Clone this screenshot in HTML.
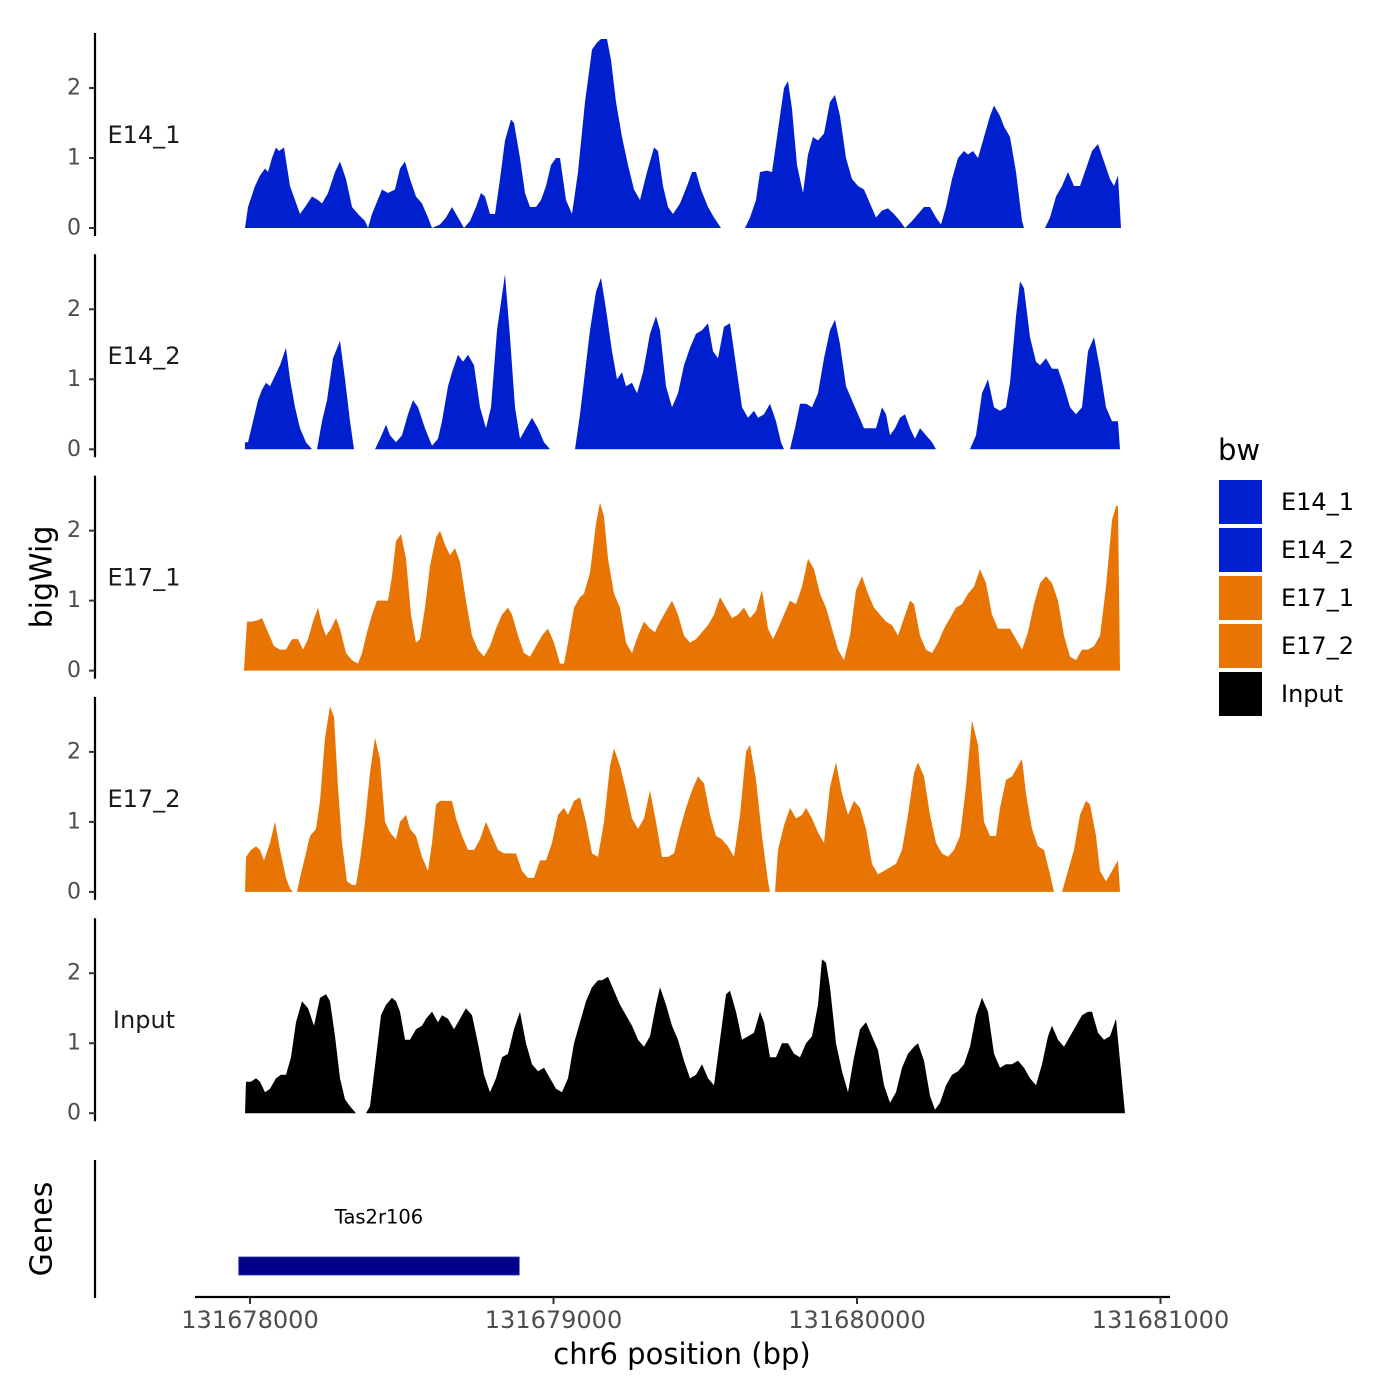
<!DOCTYPE html>
<html><head><meta charset="utf-8"><style>
html,body{margin:0;padding:0;background:#fff;}
svg{display:block;font-family:"DejaVu Sans","Liberation Sans",sans-serif;}
</style></head><body>
<svg id="chart" width="1400" height="1400" viewBox="0 0 1400 1400" xmlns="http://www.w3.org/2000/svg">
<rect width="1400" height="1400" fill="#fff"/>
<g id="tracks"></g>
<g id="axes"></g>
<text x="42" y="577" transform="rotate(-90 42 577)" text-anchor="middle" dominant-baseline="central" font-size="30" fill="#000">bigWig</text>
<text x="42" y="1229" transform="rotate(-90 42 1229)" text-anchor="middle" dominant-baseline="central" font-size="30" fill="#000">Genes</text>
<line x1="95" y1="1160" x2="95" y2="1298" stroke="#000" stroke-width="2.2"/>
<g id="genes"></g>
<g id="xaxis"></g>
<text x="682" y="1354" text-anchor="middle" dominant-baseline="central" font-size="29" fill="#000">chr6 position (bp)</text>
<g id="legend">
<text x="1218" y="450" dominant-baseline="central" font-size="29" fill="#000">bw</text>
</g>
</svg>
<script>
// Sample positions are recorded in track units (u); genomic bp = 131678000 + (u-250)*3.295
const trackNames = ["E14_1","E14_2","E17_1","E17_2","Input"];
const trackColors = ["#0020D0","#0020D0","#E87503","#E87503","#000000"];
const yTicks = [0,1,2];
const xTicks = [131678000,131679000,131680000,131681000];
const xTickLabels = ["131678000","131679000","131680000","131681000"];
const gene = {name:"Tas2r106", start:131677963, end:131678887};

const e14_1 = [[245,0],[248,0.3],[255,0.6],[260,0.75],[265,0.85],[268,0.8],[272,1.0],[276,1.15],[279,1.1],[284,1.15],[290,0.6],[295,0.4],[300,0.2],[305,0.3],[312,0.45],[318,0.4],[322,0.35],[328,0.5],[335,0.8],[340,0.95],[346,0.7],[352,0.3],[358,0.2],[365,0.1],[368,0],[372,0.2],[382,0.55],[388,0.5],[395,0.55],[400,0.85],[405,0.95],[410,0.7],[416,0.45],[422,0.35],[428,0.15],[432,0],[440,0.05],[446,0.15],[452,0.3],[458,0.15],[464,0],[470,0.1],[476,0.3],[481,0.5],[485,0.45],[490,0.2],[495,0.2],[500,0.7],[505,1.25],[511,1.55],[514,1.5],[520,1.0],[525,0.5],[530,0.3],[536,0.3],[541,0.4],[546,0.6],[551,0.9],[556,1.0],[560,1.0],[566,0.4],[572,0.2],[578,0.8],[585,1.8],[592,2.55],[597,2.65],[601,2.7],[607,2.7],[611,2.4],[616,1.8],[622,1.3],[628,0.9],[634,0.55],[640,0.4],[647,0.8],[654,1.15],[658,1.1],[663,0.6],[668,0.3],[673,0.2],[680,0.35],[687,0.6],[692,0.8],[696,0.8],[701,0.55],[708,0.3],[714,0.15],[721,0],[733,null],[745,0],[750,0.15],[756,0.4],[760,0.8],[767,0.82],[772,0.8],[778,1.4],[784,2.0],[788,2.1],[792,1.7],[797,0.9],[803,0.5],[808,1.05],[813,1.3],[818,1.25],[824,1.35],[830,1.8],[835,1.9],[840,1.6],[846,1.0],[852,0.7],[858,0.6],[864,0.55],[870,0.35],[876,0.15],[882,0.25],[888,0.28],[894,0.2],[900,0.1],[905,0],[912,0.1],[918,0.2],[924,0.3],[930,0.3],[936,0.15],[941,0.05],[946,0.3],[952,0.7],[958,1.0],[964,1.1],[968,1.05],[973,1.1],[978,1.0],[984,1.3],[990,1.6],[994,1.75],[1000,1.6],[1004,1.45],[1010,1.3],[1016,0.8],[1022,0.1],[1024,0],[1034,null],[1045,0],[1050,0.15],[1056,0.45],[1062,0.6],[1068,0.8],[1074,0.6],[1080,0.6],[1086,0.85],[1092,1.1],[1098,1.2],[1104,0.95],[1110,0.7],[1114,0.6],[1118,0.75],[1121,0]];

const e14_2 = [[245,0.1],[248,0.1],[253,0.4],[258,0.7],[262,0.85],[266,0.95],[270,0.9],[275,1.05],[280,1.2],[286,1.45],[290,1.0],[295,0.6],[300,0.3],[306,0.1],[312,0],[314,null],[317,0],[322,0.4],[327,0.7],[333,1.3],[340,1.55],[345,1.0],[350,0.4],[354,0],[364,null],[375,0],[380,0.15],[386,0.35],[390,0.2],[396,0.1],[402,0.2],[408,0.5],[413,0.7],[418,0.6],[425,0.3],[432,0.05],[438,0.15],[442,0.4],[448,0.9],[452,1.1],[458,1.35],[463,1.25],[468,1.35],[474,1.2],[480,0.6],[486,0.3],[491,0.6],[497,1.7],[502,2.2],[505,2.5],[510,1.6],[515,0.6],[520,0.15],[526,0.3],[532,0.45],[538,0.3],[544,0.1],[550,0],[562,null],[575,0],[580,0.5],[585,1.1],[590,1.7],[596,2.25],[601,2.45],[606,2.0],[612,1.4],[617,1.0],[622,1.1],[626,0.9],[632,0.95],[637,0.8],[643,1.1],[650,1.65],[656,1.9],[660,1.7],[666,0.9],[672,0.6],[678,0.8],[684,1.2],[690,1.45],[696,1.65],[702,1.7],[708,1.8],[713,1.4],[718,1.3],[724,1.75],[730,1.8],[736,1.2],[742,0.6],[748,0.45],[754,0.55],[758,0.45],[764,0.5],[770,0.65],[776,0.4],[781,0.1],[784,0],[787,null],[790,0],[795,0.3],[800,0.65],[806,0.65],[812,0.6],[818,0.8],[824,1.3],[830,1.7],[835,1.85],[840,1.5],[846,0.9],[852,0.7],[858,0.5],[864,0.3],[870,0.3],[876,0.3],[882,0.6],[886,0.5],[890,0.2],[895,0.3],[900,0.45],[905,0.5],[910,0.3],[915,0.15],[920,0.3],[926,0.2],[932,0.1],[936,0],[952,null],[970,0],[976,0.2],[982,0.8],[988,1.0],[994,0.6],[1000,0.55],[1006,0.6],[1010,0.95],[1016,1.9],[1020,2.4],[1024,2.3],[1030,1.6],[1036,1.25],[1040,1.2],[1046,1.3],[1052,1.15],[1058,1.15],[1064,0.9],[1070,0.6],[1076,0.5],[1082,0.6],[1088,1.4],[1094,1.6],[1100,1.15],[1106,0.6],[1112,0.4],[1118,0.4],[1120,0]];

const e17_1 = [[244,0],[247,0.7],[252,0.7],[258,0.72],[262,0.75],[268,0.55],[274,0.35],[280,0.3],[286,0.3],[292,0.45],[298,0.45],[303,0.3],[308,0.45],[313,0.7],[318,0.9],[322,0.65],[326,0.5],[331,0.6],[336,0.75],[340,0.6],[346,0.25],[352,0.15],[358,0.1],[362,0.25],[367,0.55],[372,0.8],[377,1.0],[382,1.0],[388,1.0],[392,1.35],[396,1.85],[401,1.95],[406,1.6],[411,0.8],[416,0.4],[420,0.45],[425,0.9],[430,1.5],[436,1.9],[440,2.0],[445,1.8],[450,1.65],[455,1.75],[460,1.55],[466,1.0],[472,0.5],[478,0.3],[484,0.2],[490,0.35],[496,0.6],[502,0.8],[508,0.9],[512,0.8],[518,0.5],[524,0.25],[530,0.2],[536,0.35],[542,0.5],[548,0.6],[554,0.4],[560,0.1],[564,0.1],[568,0.4],[574,0.9],[580,1.05],[584,1.1],[590,1.4],[596,2.1],[600,2.4],[604,2.2],[608,1.6],[614,1.1],[620,0.9],[626,0.4],[632,0.25],[638,0.5],[644,0.7],[650,0.6],[655,0.55],[660,0.7],[666,0.85],[672,1.0],[678,0.8],[684,0.5],[690,0.4],[696,0.45],[702,0.55],[708,0.65],[714,0.8],[720,1.05],[726,0.9],[732,0.75],[738,0.8],[744,0.9],[750,0.75],[756,0.85],[762,1.15],[768,0.6],[773,0.45],[778,0.6],[784,0.8],[790,1.0],[796,0.95],[802,1.2],[808,1.6],[814,1.45],[820,1.1],[826,0.9],[832,0.6],[838,0.3],[844,0.15],[850,0.5],[856,1.15],[862,1.35],[868,1.1],[874,0.9],[880,0.8],[886,0.7],[892,0.65],[898,0.5],[904,0.75],[910,1.0],[914,0.95],[920,0.5],[926,0.3],[932,0.25],[938,0.4],[944,0.6],[950,0.75],[956,0.9],[962,0.95],[968,1.1],[974,1.2],[980,1.45],[986,1.25],[992,0.8],[998,0.6],[1004,0.6],[1010,0.6],[1016,0.45],[1022,0.3],[1028,0.55],[1034,0.95],[1040,1.25],[1046,1.35],[1052,1.25],[1058,1.0],[1064,0.5],[1070,0.2],[1076,0.15],[1082,0.3],[1088,0.3],[1094,0.35],[1100,0.5],[1106,1.2],[1112,2.15],[1116,2.35],[1118,2.35],[1120,0]];

const e17_2 = [[245,0],[246,0.5],[251,0.6],[256,0.65],[260,0.6],[264,0.45],[270,0.7],[275,1.0],[280,0.6],[286,0.2],[290,0.05],[293,0],[295,null],[297,0],[300,0.2],[305,0.5],[310,0.8],[316,0.9],[320,1.3],[325,2.2],[330,2.65],[334,2.5],[338,1.5],[342,0.7],[347,0.15],[352,0.1],[356,0.1],[360,0.45],[365,1.0],[370,1.7],[375,2.2],[380,1.9],[385,1.0],[390,0.85],[396,0.75],[400,1.0],[406,1.1],[410,0.9],[416,0.8],[422,0.5],[428,0.3],[432,0.7],[436,1.25],[440,1.3],[446,1.3],[452,1.3],[456,1.05],[462,0.8],[468,0.6],[474,0.6],[480,0.75],[486,1.0],[492,0.8],[498,0.6],[504,0.55],[510,0.55],[516,0.55],[522,0.3],[528,0.2],[534,0.2],[540,0.45],[546,0.45],[552,0.7],[558,1.1],[564,1.2],[568,1.1],[574,1.3],[580,1.35],[586,1.0],[592,0.55],[598,0.5],[604,1.0],[610,1.8],[614,2.05],[620,1.8],[626,1.45],[632,1.05],[638,0.9],[644,1.05],[650,1.45],[656,1.0],[662,0.5],[668,0.5],[674,0.55],[680,0.9],[686,1.2],[692,1.45],[698,1.65],[704,1.55],[710,1.1],[716,0.8],[722,0.75],[728,0.65],[734,0.5],[740,1.1],[746,2.0],[750,2.1],[756,1.6],[762,0.8],[768,0.15],[770,0],[772,null],[775,0],[778,0.6],[784,0.95],[790,1.2],[796,1.05],[802,1.1],[806,1.2],[812,1.05],[818,0.85],[824,0.7],[830,1.5],[836,1.85],[842,1.4],[848,1.1],[854,1.3],[860,1.2],[866,0.9],[872,0.4],[878,0.25],[884,0.3],[890,0.35],[896,0.4],[902,0.6],[908,1.1],[914,1.7],[918,1.85],[924,1.65],[930,1.1],[936,0.7],[942,0.55],[948,0.5],[954,0.6],[960,0.8],[966,1.5],[972,2.45],[978,2.1],[984,1.0],[990,0.8],[996,0.8],[1000,1.2],[1006,1.6],[1012,1.65],[1018,1.8],[1022,1.9],[1026,1.4],[1032,0.9],[1038,0.65],[1044,0.6],[1050,0.25],[1054,0],[1058,null],[1062,0],[1068,0.3],[1074,0.6],[1080,1.1],[1086,1.3],[1090,1.25],[1096,0.8],[1100,0.3],[1106,0.15],[1112,0.3],[1118,0.45],[1120,0]];

const input = [[245,0],[246,0.45],[251,0.45],[256,0.5],[260,0.45],[265,0.3],[270,0.35],[276,0.5],[281,0.55],[286,0.55],[291,0.8],[296,1.3],[302,1.6],[308,1.5],[314,1.25],[320,1.65],[326,1.7],[330,1.6],[335,1.1],[340,0.5],[345,0.2],[350,0.1],[356,0],[361,null],[366,0],[370,0.1],[376,0.8],[381,1.4],[386,1.55],[392,1.65],[396,1.6],[400,1.45],[405,1.05],[410,1.05],[416,1.2],[422,1.25],[426,1.35],[432,1.45],[438,1.3],[442,1.4],[448,1.35],[454,1.2],[460,1.35],[466,1.5],[472,1.4],[478,1.0],[484,0.55],[490,0.3],[496,0.5],[502,0.8],[508,0.85],[514,1.2],[520,1.45],[526,1.0],[532,0.7],[538,0.6],[544,0.65],[550,0.5],[556,0.35],[562,0.3],[568,0.5],[574,1.0],[580,1.3],[586,1.6],[592,1.8],[598,1.9],[602,1.9],[608,1.95],[614,1.75],[620,1.55],[626,1.4],[632,1.25],[638,1.05],[644,0.95],[650,1.1],[656,1.55],[660,1.8],[666,1.55],[672,1.25],[678,1.05],[684,0.75],[690,0.5],[696,0.55],[702,0.7],[708,0.5],[714,0.4],[720,1.05],[726,1.7],[730,1.75],[736,1.45],[742,1.05],[748,1.1],[754,1.15],[760,1.45],[764,1.3],[770,0.8],[776,0.8],[782,1.0],[788,1.0],[794,0.85],[800,0.8],[806,1.0],[812,1.1],[818,1.55],[822,2.2],[826,2.15],[830,1.8],[836,1.0],[842,0.6],[848,0.3],[854,0.8],[860,1.2],[866,1.3],[872,1.1],[878,0.9],[884,0.4],[890,0.15],[896,0.3],[902,0.65],[908,0.85],[914,0.95],[918,1.0],[924,0.75],[930,0.25],[935,0.05],[940,0.15],[946,0.4],[952,0.55],[958,0.6],[964,0.7],[970,0.95],[976,1.4],[982,1.65],[988,1.45],[994,0.85],[1000,0.65],[1006,0.7],[1012,0.7],[1018,0.75],[1024,0.65],[1030,0.5],[1036,0.4],[1042,0.7],[1048,1.1],[1052,1.25],[1058,1.05],[1064,0.95],[1070,1.1],[1076,1.25],[1082,1.4],[1088,1.45],[1092,1.45],[1098,1.15],[1104,1.05],[1110,1.1],[1116,1.35],[1125,0]];

const trackData = [e14_1, e14_2, e17_1, e17_2, input];

const NS = "http://www.w3.org/2000/svg";
function mk(tag, attrs, parent){const e=document.createElementNS(NS,tag);for(const k in attrs)e.setAttribute(k,attrs[k]);parent.appendChild(e);return e;}
function toBp(u){return 131678000 + (u-250)*3.295;}
function xScale(bp){return 250 + (bp-131678000)*0.3035;}
const PANEL0 = 228, PANEL_STEP = 221.3, PX_PER_UNIT = 70;
function yScale(i, v){return PANEL0 + i*PANEL_STEP - v*PX_PER_UNIT;}

const tracks = document.getElementById('tracks');
const axes = document.getElementById('axes');
trackData.forEach((data, i) => {
  const g = mk('g', {}, tracks);
  
  
  const segs = []; let cur = [];
  data.forEach(d => { if (d[1] === null) { if (cur.length) segs.push(cur); cur = []; } else cur.push(d); });
  if (cur.length) segs.push(cur);
  const base = yScale(i, 0);
  segs.forEach((s) => {
    let dStr = 'M' + xScale(toBp(s[0][0])).toFixed(1) + ',' + base;
    s.forEach(p => { dStr += 'L' + xScale(toBp(p[0])).toFixed(1) + ',' + yScale(i, p[1]).toFixed(1); });
    dStr += 'L' + xScale(toBp(s[s.length-1][0])).toFixed(1) + ',' + base + 'Z';
    const path = mk('path', {d: dStr, fill: trackColors[i], stroke: 'none'}, g);
    
    
  });
  const ax = mk('line', {x1:95, x2:95, y1:(yScale(i,2.8)+1).toFixed(1), y2:(base+8).toFixed(1), stroke:'#000', 'stroke-width':2.2}, axes);
  
  
  yTicks.forEach(t => {
    const y = yScale(i, t);
    const tk = mk('line', {x1:89, x2:95, y1:y, y2:y, stroke:'#333', 'stroke-width':2}, axes);
    
    
    const tl = mk('text', {x:81, y:y, 'text-anchor':'end', 'dominant-baseline':'central', 'font-size':22, fill:'#4d4d4d'}, axes);
    tl.textContent = String(t);
    
    
  });
  const lbl = mk('text', {x:144, y:(yScale(i,1.33)).toFixed(1), 'text-anchor':'middle', 'dominant-baseline':'central', 'font-size':24, fill:'#1a1a1a'}, axes);
  lbl.textContent = trackNames[i];
  
  
});

const genes = document.getElementById('genes');
const gx1 = xScale(gene.start), gx2 = xScale(gene.end);
const gb = mk('rect', {x:gx1, y:1257, width:gx2-gx1, height:18, fill:'#00008B', stroke:'#2a2ab0', 'stroke-width':0.8}, genes);


const gl = mk('text', {x:(gx1+gx2)/2, y:1217, 'text-anchor':'middle', 'dominant-baseline':'central', 'font-size':19.5, fill:'#000'}, genes);
gl.textContent = gene.name;



const xa = document.getElementById('xaxis');
const xl = mk('line', {x1:195, x2:1170, y1:1297, y2:1297, stroke:'#000', 'stroke-width':2.2}, xa);


xTicks.forEach((t, k) => {
  const x = xScale(t);
  const tk = mk('line', {x1:x, x2:x, y1:1297, y2:1304, stroke:'#333', 'stroke-width':2}, xa);
  
  
  const tl = mk('text', {x:x, y:1320, 'text-anchor':'middle', 'dominant-baseline':'central', 'font-size':24, fill:'#4d4d4d'}, xa);
  tl.textContent = xTickLabels[k];
  
  
});

const lg = document.getElementById('legend');
trackNames.forEach((n, i) => {
  const y = 480 + i*48;
  const r = mk('rect', {x:1219, y:y, width:43, height:44, fill:trackColors[i]}, lg);
  
  
  const t = mk('text', {x:1281, y:y+22, 'dominant-baseline':'central', 'font-size':24, fill:'#000'}, lg);
  t.textContent = n;
  
  
});
</script>
</body></html>
